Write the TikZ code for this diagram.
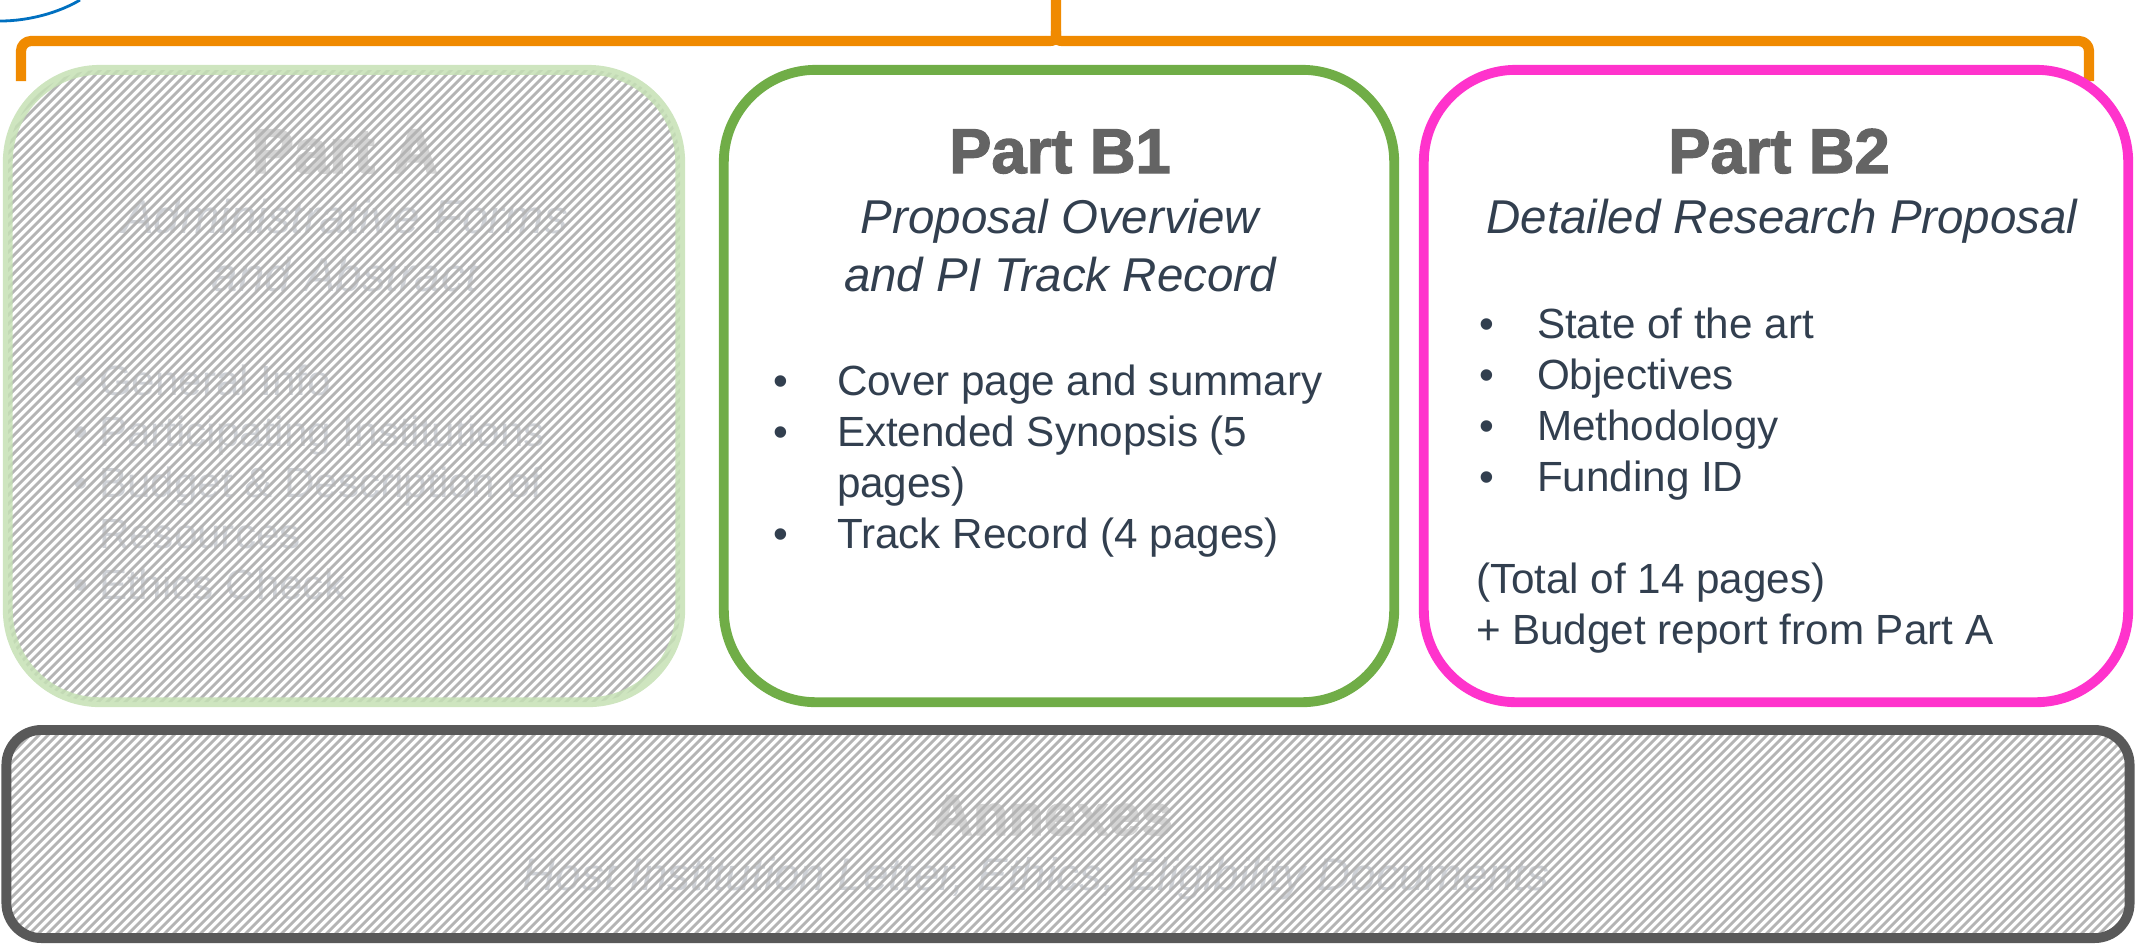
\documentclass[tikz,border=0pt]{standalone}
\usepackage{fontspec}
\setmainfont{Liberation Sans}
\newfontfamily\heavy{Liberation Sans}[BoldFeatures={FakeBold=2}]
\definecolor{orng}{HTML}{F08A00}
\definecolor{grnB}{HTML}{70AD47}
\definecolor{grnA}{HTML}{C5E0B4}
\definecolor{pnk}{HTML}{FF33CC}
\definecolor{annx}{HTML}{595959}
\definecolor{blu}{HTML}{0070C0}
\definecolor{hatchc}{HTML}{B4B4B4}
\definecolor{ttl}{HTML}{646464}
\definecolor{txt}{HTML}{323F4F}
\definecolor{fadeT}{HTML}{D4D4D4}
\definecolor{fadeS}{HTML}{CED1D6}
\begin{document}
\begin{tikzpicture}[x=0.01cm,y=-0.01cm,
  box/.style={draw, rounded corners=0.92cm, line width=2.8pt, inner sep=0pt, outer sep=0pt, minimum height=6.32cm},
  lbl/.style={inner sep=0pt, outer sep=0pt},
  ttlS/.style={lbl, text=ttl, font=\heavy\bfseries\fontsize{18}{21}\selectfont},
  subS/.style={lbl, text=txt, font=\itshape\fontsize{13.5}{16}\selectfont},
  bodyS/.style={lbl, text=txt, font=\fontsize{12}{14}\selectfont},
  fttl/.style={lbl, text=fadeT, font=\heavy\bfseries\fontsize{18}{21}\selectfont},
  fsub/.style={lbl, text=fadeS, font=\itshape\fontsize{13.5}{16}\selectfont},
  fbody/.style={lbl, text=fadeS, font=\fontsize{12}{14}\selectfont},
  hatchline/.style={hatchc, line width=0.8pt},
  bracket/.style={orng, line width=2.9pt, line cap=butt, line join=round}
]
\useasboundingbox (0,0) rectangle (2136,947);

% blue arc at top-left corner
\draw[blu, line width=0.8pt] (0,21) .. controls (30,21) and (60,12) .. (80,0);

% orange brace
\coordinate (bl) at (21,81);
\coordinate (br) at (2089,81);
\coordinate (btip) at (1056,0);
\draw[bracket, rounded corners=0.1cm] (bl) |- (1046,41);
\draw[bracket] (1046,41) .. controls (1056,41) .. (1056,31) -- (btip);
\draw[bracket, rounded corners=0.1cm] (br) |- (1066,41);
\draw[bracket] (1066,41) .. controls (1056,41) .. (1056,31);

% ---- Part A (faded, hatched)
\node[fttl, anchor=base] (aT) at (345,173) {Part A};
\node[fsub, anchor=base] (aS1) at (345,233) {Administrative Forms};
\node[fsub, anchor=base] (aS2) at (345,291) {and Abstract};
\node[fbody, anchor=base] (aB1) at (81,395) {•};
\node[fbody, anchor=base west] (aL1) at (99,395) {General Info};
\node[fbody, anchor=base] (aB2) at (81,446) {•};
\node[fbody, anchor=base west] (aL2) at (99,446) {Participating Institutions};
\node[fbody, anchor=base] (aB3) at (81,497) {•};
\node[fbody, anchor=base west] (aL3) at (99,497) {Budget \& Description of};
\node[fbody, anchor=base west] (aL4) at (99,548) {Resources};
\node[fbody, anchor=base] (aB5) at (81,599) {•};
\node[fbody, anchor=base west] (aL5) at (99,599) {Ethics Check};
\begin{scope}
  \clip[rounded corners=0.92cm] (8,70) rectangle (680,702);
  \foreach \i in {-702,-693,...,720} {\draw[hatchline] (\i,710) -- ++(650,-650);}
\end{scope}
\node[box, draw=grnA, draw opacity=0.85, minimum width=6.72cm] (pa) at (344,386) {};

% ---- Part B1
\node[box, draw=grnB, minimum width=6.70cm] (pb1) at (1059,386) {};
\node[ttlS, anchor=base] (b1T) at (1060,173) {Part B1};
\node[subS, anchor=base] (b1S1) at (1060,233) {Proposal Overview};
\node[subS, anchor=base] (b1S2) at (1060,291) {and PI Track Record};
\node[bodyS, anchor=base] (b1B1) at (781,395) {•};
\node[bodyS, anchor=base west] (b1L1) at (837,395) {Cover page and summary};
\node[bodyS, anchor=base] (b1B2) at (781,446) {•};
\node[bodyS, anchor=base west] (b1L2) at (837,446) {Extended Synopsis (5};
\node[bodyS, anchor=base west] (b1L3) at (837,497) {pages)};
\node[bodyS, anchor=base] (b1B4) at (781,548) {•};
\node[bodyS, anchor=base west] (b1L4) at (837,548) {Track Record (4 pages)};

% ---- Part B2
\node[box, draw=pnk, minimum width=7.04cm] (pb2) at (1776,386) {};
\node[ttlS, anchor=base] (b2T) at (1779,173) {Part B2};
\node[subS, anchor=base] (b2S1) at (1782,233) {Detailed Research Proposal};
\node[bodyS, anchor=base] (b2B1) at (1487,338) {•};
\node[bodyS, anchor=base west] (b2L1) at (1537,338) {State of the art};
\node[bodyS, anchor=base] (b2B2) at (1487,389) {•};
\node[bodyS, anchor=base west] (b2L2) at (1537,389) {Objectives};
\node[bodyS, anchor=base] (b2B3) at (1487,440) {•};
\node[bodyS, anchor=base west] (b2L3) at (1537,440) {Methodology};
\node[bodyS, anchor=base] (b2B4) at (1487,491) {•};
\node[bodyS, anchor=base west] (b2L4) at (1537,491) {Funding ID};
\node[bodyS, anchor=base west] (b2N1) at (1476,593) {(Total of 14 pages)};
\node[bodyS, anchor=base west] (b2N2) at (1476,644) {+ Budget report from Part A};

% ---- Annexes (faded, hatched)
\node[fttl, anchor=base, font=\heavy\bfseries\fontsize{16.5}{20}\selectfont] (xT) at (1052,835) {Annexes};
\node[fsub, anchor=base, font=\itshape\fontsize{13}{16}\selectfont] (xS) at (1036,890) {Host Institution Letter, Ethics, Eligibility Documents};
\begin{scope}
  \clip[rounded corners=0.35cm] (7,730) rectangle (2129,938);
  \foreach \i in {-243,-234,...,2140} {\draw[hatchline] (\i,945) -- ++(230,-230);}
\end{scope}
\node[box, draw=annx, rounded corners=0.35cm, minimum width=21.22cm, minimum height=2.08cm] (ax) at (1068,834) {};
\end{tikzpicture}
\end{document}
